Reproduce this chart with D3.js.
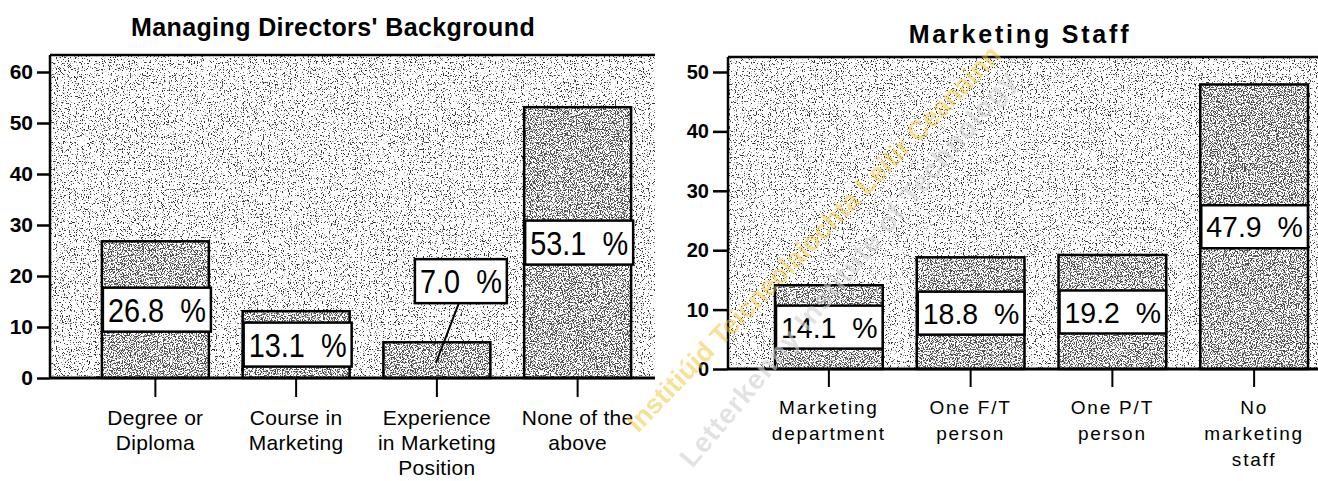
<!DOCTYPE html>
<html>
<head>
<meta charset="utf-8">
<script src="https://cdn.jsdelivr.net/npm/d3@7"></script>
<style>
  html, body { margin: 0; padding: 0; background: #fff; }
  svg { display: block; font-family: "Liberation Sans", Arial, sans-serif; }
</style>
</head>
<body>
<svg id="chart" width="1318" height="481"></svg>
<script>
// Managing directors' background (% of firms)
const mdCategories = ["Degree or\nDiploma", "Course in\nMarketing", "Experience\nin Marketing\nPosition", "None of the\nabove"];
const mdValues = [26.8, 13.1, 7.0, 53.1];
const mdTicks = [0, 10, 20, 30, 40, 50, 60];

// Marketing staff (% of firms)
const staffCategories = ["Marketing\ndepartment", "One F/T\nperson", "One P/T\nperson", "No\nmarketing\nstaff"];
const staffValues = [14.1, 18.8, 19.2, 47.9];
const staffTicks = [0, 10, 20, 30, 40, 50];

const svg = d3.select("#chart");
const defs = svg.append("defs");

// Printed halftone paper: grey speckle over white, thresholded noise
function stipple(id, threshold, seed, ink) {
  const f = defs.append("filter").attr("id", id)
    .attr("x", 0).attr("y", 0).attr("width", 1).attr("height", 1)
    .attr("color-interpolation-filters", "sRGB");
  f.append("feTurbulence").attr("type", "fractalNoise")
    .attr("baseFrequency", 0.85).attr("numOctaves", 2).attr("seed", seed).attr("result", "noise");
  f.append("feColorMatrix").attr("in", "noise").attr("type", "matrix")
    .attr("values", `0 0 0 0 ${ink}  0 0 0 0 ${ink}  0 0 0 0 ${ink}  12 0 0 0 ${-12 * threshold}`)
    .attr("result", "dots");
  f.append("feFlood").attr("flood-color", "#fff").attr("result", "paper");
  const m = f.append("feMerge");
  m.append("feMergeNode").attr("in", "paper");
  m.append("feMergeNode").attr("in", "dots");
}
stipple("paperLight", 0.595, 4, 0.2);
stipple("paperDark", 0.49, 9, 0.3);

function drawPanel(o) {
  const g = svg.append("g");
  const y = d3.scaleLinear().domain([0, d3.max(o.ticks)]).range([o.base, o.yTopTick]);
  const x = d3.scaleBand().domain(o.categories).range(o.bandRange)
    .paddingInner(0.24).paddingOuter(0.12);

  // title
  g.append("text")
    .attr("x", o.titleX).attr("y", o.titleY)
    .attr("text-anchor", "middle")
    .attr("font-size", o.titleSize).attr("font-weight", "bold")
    .attr("letter-spacing", o.titleSpacing)
    .text(o.title);

  // plot background
  g.append("rect")
    .attr("x", o.left).attr("y", o.top)
    .attr("width", o.right - o.left).attr("height", o.base - o.top)
    .attr("filter", "url(#paperLight)");

  // bars: textured fill, then outline
  g.selectAll("rect.fill").data(o.values).join("rect").attr("class", "fill")
    .attr("x", (d, i) => x(o.categories[i])).attr("y", d => y(d))
    .attr("width", x.bandwidth()).attr("height", d => o.base - y(d))
    .attr("filter", "url(#paperDark)");
  g.selectAll("rect.outline").data(o.values).join("rect").attr("class", "outline")
    .attr("x", (d, i) => x(o.categories[i])).attr("y", d => y(d))
    .attr("width", x.bandwidth()).attr("height", d => o.base - y(d))
    .attr("fill", "none").attr("stroke", "#000").attr("stroke-width", 2.5);

  // frame: top edge, value axis line, base line
  g.append("line").attr("x1", o.left).attr("x2", o.right).attr("y1", o.top).attr("y2", o.top)
    .attr("stroke", "#000").attr("stroke-width", 2.5);
  g.append("line").attr("x1", o.left).attr("x2", o.left).attr("y1", o.top).attr("y2", o.base)
    .attr("stroke", "#000").attr("stroke-width", 2.5);
  g.append("line").attr("x1", o.left).attr("x2", o.right).attr("y1", o.base).attr("y2", o.base)
    .attr("stroke", "#000").attr("stroke-width", 3);

  // y axis
  const ya = g.append("g").attr("transform", `translate(${o.left},0)`)
    .call(d3.axisLeft(y).tickValues(o.ticks).tickSize(o.tickLen).tickSizeOuter(0).tickPadding(4));
  ya.select(".domain").remove();
  ya.selectAll(".tick line").attr("stroke", "#000").attr("stroke-width", 2.5);
  ya.selectAll(".tick text").attr("fill", "#000").attr("font-size", o.tickFont)
    .attr("font-weight", "bold").attr("font-family", "'Liberation Sans', Arial, sans-serif");

  // x axis ticks
  const xa = g.append("g").attr("transform", `translate(0,${o.base})`)
    .call(d3.axisBottom(x).tickSize(o.xTickLen).tickSizeOuter(0).tickFormat(() => ""));
  xa.select(".domain").remove();
  xa.selectAll(".tick line").attr("stroke", "#000").attr("stroke-width", 2);

  // category labels
  o.categories.forEach(c => {
    const cx = x(c) + x.bandwidth() / 2;
    const t = g.append("text")
      .attr("text-anchor", "middle")
      .attr("font-size", o.catFont)
      .attr("letter-spacing", o.catSpacing)
      .attr("fill", "#000");
    c.split("\n").forEach((line, k) => {
      t.append("tspan").attr("x", cx).attr("y", o.catBaseline + k * o.catLine).text(line);
    });
  });

  // value labels in boxes at mid-bar height
  o.values.forEach((v, i) => {
    const c = o.categories[i];
    const cx = x(c) + x.bandwidth() / 2;
    const midY = y(v / 2);
    const t = g.append("text")
      .attr("font-size", o.labelFont)
      .attr("xml:space", "preserve")
      .style("white-space", "pre")
      .attr("fill", "#000")
      .text(v.toFixed(1) + "  %");
    const w = t.node().getComputedTextLength() * o.labelScale;
    const bw = w + 10;
    let bx = x(c) + 1;
    let cy = midY;
    if (o.callout && o.callout.index === i) {
      bx = cx + o.callout.dx - bw / 2;
      cy = midY + o.callout.dy;
      g.insert("line", () => t.node())
        .attr("x1", bx + bw / 2 - 2).attr("y1", cy + o.boxH / 2)
        .attr("x2", cx - 1).attr("y2", midY + 3)
        .attr("stroke", "#000").attr("stroke-width", 2);
    }
    g.insert("rect", () => t.node())
      .attr("x", bx).attr("y", cy - o.boxH / 2)
      .attr("width", bw).attr("height", o.boxH)
      .attr("fill", "#fff").attr("stroke", "#000").attr("stroke-width", 2.5);
    t.attr("transform", `translate(${bx + 5},${cy + o.labelFont * 0.358}) scale(${o.labelScale},1)`);
  });
}

drawPanel({
  title: "Managing Directors' Background",
  titleX: 333, titleY: 36, titleSize: 25, titleSpacing: 0.4,
  categories: mdCategories, values: mdValues, ticks: mdTicks,
  left: 50, right: 655, top: 55, base: 378, yTopTick: 72,
  bandRange: [85, 648],
  tickLen: 13, tickFont: 21, xTickLen: 19,
  labelFont: 34, labelScale: 0.85, boxH: 44,
  catFont: 21, catSpacing: 0.3, catBaseline: 425, catLine: 25,
  callout: { index: 2, dx: 24, dy: -79 }
});

drawPanel({
  title: "Marketing Staff",
  titleX: 1020, titleY: 43, titleSize: 25, titleSpacing: 2.8,
  categories: staffCategories, values: staffValues, ticks: staffTicks,
  left: 728, right: 1318, top: 57, base: 369, yTopTick: 72,
  bandRange: [758, 1325],
  tickLen: 15, tickFont: 20, xTickLen: 18,
  labelFont: 30, labelScale: 0.95, boxH: 43,
  catFont: 19, catSpacing: 1.8, catBaseline: 414, catLine: 26,
  callout: null
});

// institutional stamp across the page
const stamp = svg.append("g").attr("pointer-events", "none");
stamp.append("text")
  .attr("transform", "translate(815,240) rotate(-46)")
  .attr("text-anchor", "middle").attr("dominant-baseline", "middle")
  .attr("font-size", 27).attr("font-weight", "bold")
  .attr("fill", "#f2c230").attr("opacity", 0.5)
  .text("Institiúid Teicneolaíochta Leitir Ceanainn");
stamp.append("text")
  .attr("transform", "translate(850,270) rotate(-50)")
  .attr("text-anchor", "middle").attr("dominant-baseline", "middle")
  .attr("font-size", 28).attr("font-weight", "bold").attr("letter-spacing", 1)
  .attr("fill", "#d0d0d0").attr("opacity", 0.6)
  .text("Letterkenny Institute of Technology");
</script>
</body>
</html>
